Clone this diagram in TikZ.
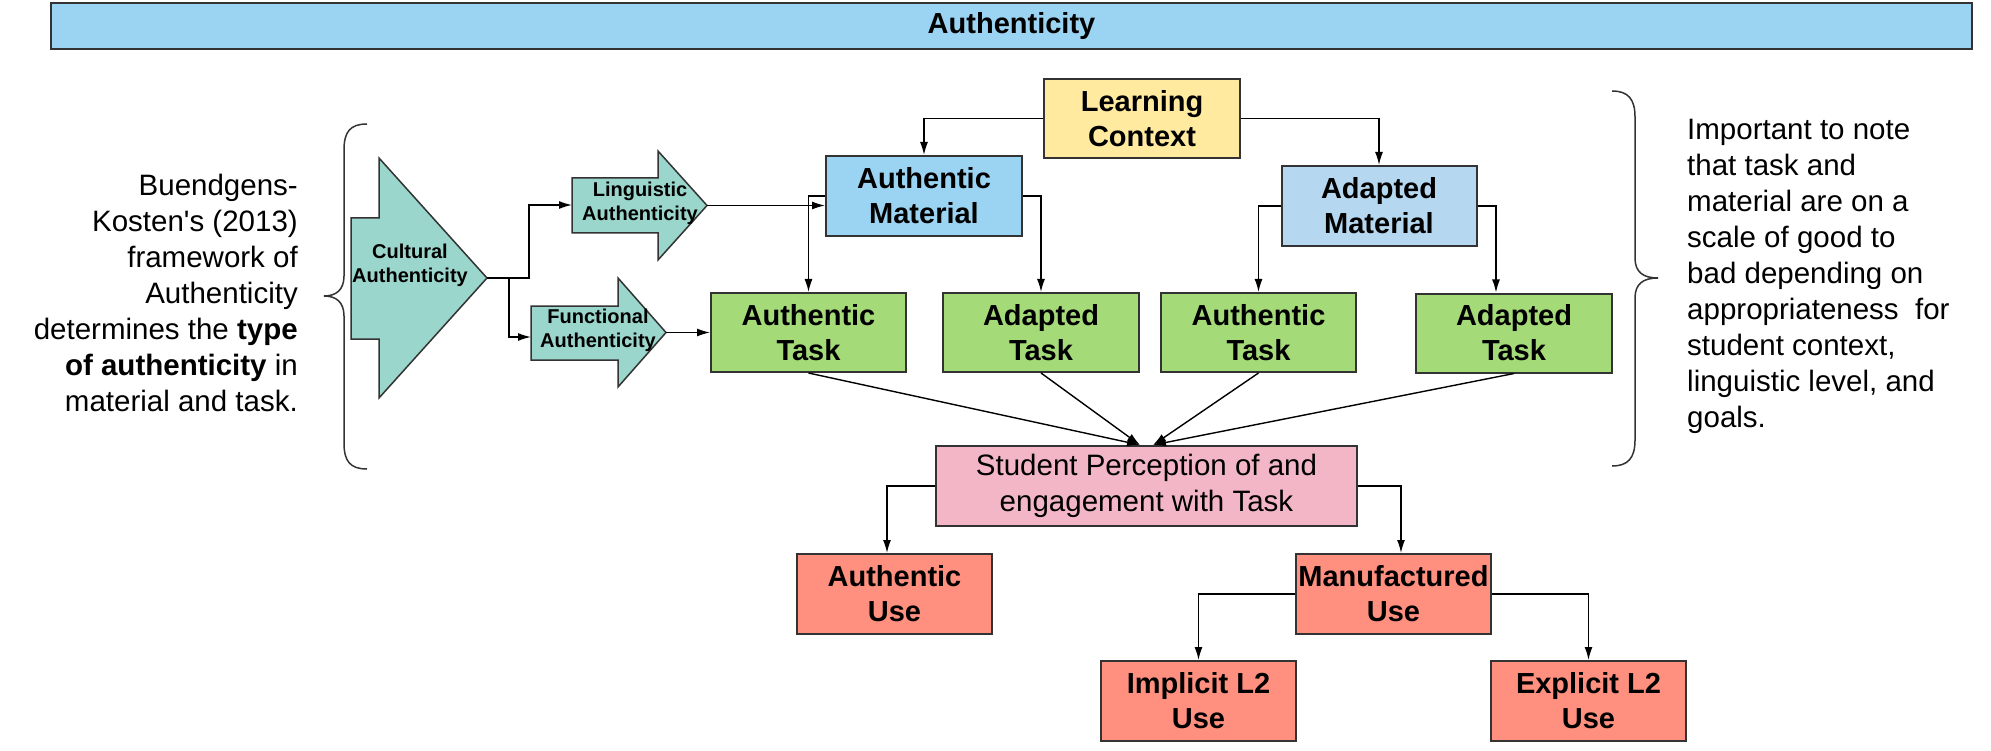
\documentclass[tikz,border=0pt]{standalone}
\usepackage{fontspec}
\setmainfont{Liberation Sans}
\usetikzlibrary{arrows.meta,calc}
\definecolor{titleblue}{RGB}{155,211,242}
\definecolor{matblue}{RGB}{155,211,242}
\definecolor{adblue}{RGB}{182,215,240}
\definecolor{ctxyellow}{RGB}{255,234,160}
\definecolor{taskgreen}{RGB}{164,218,120}
\definecolor{percpink}{RGB}{243,182,199}
\definecolor{usered}{RGB}{255,143,127}
\definecolor{teal}{RGB}{154,214,203}
\definecolor{edge}{RGB}{51,51,51}
\tikzset{
  box/.style={draw=edge, line width=2pt, align=center, inner sep=0pt,
    minimum width=195pt, minimum height=79pt,
    font=\bfseries\fontsize{29}{35}\selectfont},
  conn/.style={draw=black, line width=1.4pt, -{Latex[length=13pt,width=8pt]}},
  blockarrow/.style={fill=teal, draw=edge, line width=1.5pt},
  smalltxt/.style={align=center, inner sep=0pt, font=\bfseries\fontsize{20}{23.5}\selectfont},
  bigtxt/.style={inner sep=0pt, font=\fontsize{29.5}{36}\selectfont},
  bracepath/.style={draw=edge, line width=1.5pt}
}
\begin{document}
\begin{tikzpicture}[x=1pt,y=-1pt]
\useasboundingbox (0,0) rectangle (1991,751);

% title
\node[box, fill=titleblue, minimum width=1921pt, minimum height=46pt] (title) at (1011.5,26) {Authenticity};

% side texts
\node[bigtxt, align=right, anchor=east] (lefttext) at (298,293)
  {Buendgens-\\Kosten\textquotesingle s (2013)\\framework of\\Authenticity\\determines the \textbf{type}\\\textbf{of authenticity} in\\material and task.};
\node[bigtxt, align=left, anchor=west] (righttext) at (1687,276)
  {Important to note\\that task and\\material are on a\\scale of good to\\bad depending on\\appropriateness~ for\\student context,\\linguistic level, and\\goals.};

% braces
\draw[bracepath] (367,124) .. controls (350,124) and (344,132) .. (344,150) -- (344,276)
  .. controls (344,290) and (336,296) .. (324,296)
  .. controls (336,296) and (344,302) .. (344,316) -- (344,443)
  .. controls (344,461) and (350,469) .. (367,469);
\draw[bracepath] (1612,91) .. controls (1628,91) and (1635,99) .. (1635,117) -- (1635,258)
  .. controls (1635,272) and (1643,278) .. (1658,278)
  .. controls (1643,278) and (1635,284) .. (1635,298) -- (1635,440)
  .. controls (1635,458) and (1628,466) .. (1612,466);

% block arrows
\draw[blockarrow] (351,218) -- (379,218) -- (379,158) -- (487,278) -- (379,398) -- (379,339) -- (351,339) -- cycle;
\draw[blockarrow] (572,178) -- (658,178) -- (658,151) -- (707,205.5) -- (658,260) -- (658,233) -- (572,233) -- cycle;
\draw[blockarrow] (531,306) -- (618,306) -- (618,278) -- (666,332.5) -- (618,387) -- (618,360) -- (531,360) -- cycle;
\node[smalltxt, font=\bfseries\fontsize{20}{24}\selectfont] (cultural) at (410,265) {Cultural\\Authenticity};
\node[smalltxt] (linguistic) at (640,203.5) {Linguistic\\Authenticity};
\node[smalltxt] (functional) at (598,330.5) {Functional\\Authenticity};
\coordinate (cultip) at (487,278);
\coordinate (linin) at (572,205);
\coordinate (funin) at (531,337);
\coordinate (lintip) at (707,205.5);
\coordinate (funtip) at (666,332.5);
\coordinate (splitA) at (529,278);
\coordinate (splitB) at (509,278);

% boxes
\node[box, fill=ctxyellow, minimum width=196pt] (lc) at (1142,118.5) {Learning\\Context};
\node[box, fill=matblue, minimum width=196pt, minimum height=80pt] (am) at (924,196) {Authentic\\Material};
\node[box, fill=adblue, minimum height=80pt] (adm) at (1379,206) {Adapted\\Material};
\node[box, fill=taskgreen] (at1) at (808.5,332.5) {Authentic\\Task};
\node[box, fill=taskgreen, minimum width=196pt] (adt1) at (1041,332.5) {Adapted\\Task};
\node[box, fill=taskgreen] (at2) at (1258.5,332.5) {Authentic\\Task};
\node[box, fill=taskgreen, minimum width=196pt] (adt2) at (1514,333) {Adapted\\Task};
\node[box, fill=percpink, minimum width=421pt, minimum height=80pt,
  font=\fontsize{29.5}{36}\selectfont] (sp) at (1146.5,486) {Student Perception of and\\engagement with Task};
\node[box, fill=usered, minimum height=80pt] (au) at (894.5,594) {Authentic\\Use};
\node[box, fill=usered, minimum height=80pt] (mu) at (1393.5,594) {Manufactured\\Use};
\node[box, fill=usered, minimum height=80pt] (iu) at (1198.5,701) {Implicit L2\\Use};
\node[box, fill=usered, minimum height=80pt] (eu) at (1588.5,701) {Explicit L2\\Use};

% connectors among arrows
\draw[conn] (cultip) -- (splitA) |- (linin);
\draw[conn] (splitB) |- (funin);
\draw[conn] (lintip) -- (lintip -| am.west);
\draw[conn] (funtip) -- (funtip -| at1.west);

% context and material
\draw[conn] (lc.west) -| (am.north);
\draw[conn] (lc.east) -| (adm.north);
\draw[conn] (am.west) -| (at1.north);
\draw[conn] (am.east) -| (adt1.north);
\draw[conn] (adm.west) -| (at2.north);
\draw[conn] (adm.east) -| ([xshift=-18pt]adt2.north);

% tasks to perception
\draw[conn] (at1.south) -- ([xshift=-6.5pt]sp.north);
\draw[conn] (adt1.south) -- ([xshift=-6.5pt]sp.north);
\draw[conn] (at2.south) -- ([xshift=6.5pt]sp.north);
\draw[conn] (adt2.south) -- ([xshift=6.5pt]sp.north);

% perception to uses
\draw[conn] (sp.west) -| ([xshift=-7.5pt]au.north);
\draw[conn] (sp.east) -| ([xshift=7.5pt]mu.north);
\draw[conn] (mu.west) -| (iu.north);
\draw[conn] (mu.east) -| (eu.north);
\end{tikzpicture}
\end{document}
